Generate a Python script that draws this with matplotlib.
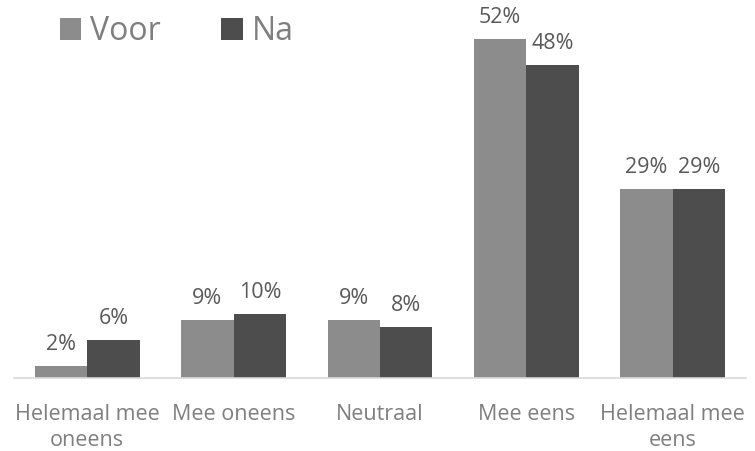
import matplotlib.pyplot as plt
import numpy as np

categories = ["Helemaal mee\noneens", "Mee oneens", "Neutraal", "Mee eens", "Helemaal mee\neens"]
voor = [1.8, 8.9, 8.9, 52.0, 29.0]
na = [5.8, 9.8, 7.8, 48.0, 29.0]
series_names = ["Voor", "Na"]

plt.rcParams['font.family'] = ['Open Sans', 'DejaVu Sans']

fig = plt.figure(figsize=(7.55, 4.51), dpi=100)
# axes placed so the baseline matches the reference
ax = fig.add_axes([14 / 755, (451 - 378) / 451, 732 / 755, 378 / 451])

x = np.arange(len(categories))
w = 0.358
c_voor = '#8c8c8c'
c_na = '#4d4d4d'
b1 = ax.bar(x - w / 2, voor, w, color=c_voor, label=series_names[0])
b2 = ax.bar(x + w / 2, na, w, color=c_na, label=series_names[1])

for bars, vals in [(b1, voor), (b2, na)]:
    for b, v in zip(bars, vals):
        ax.annotate(f"{v:.0f}%", (b.get_x() + b.get_width() / 2, v),
                    xytext=(0, 8), textcoords='offset points',
                    ha='center', va='bottom', fontsize=15.5, color='#595959')

ax.set_xlim(-0.5, 4.5)
ax.set_ylim(0, 58)
ax.set_yticks([])
ax.set_xticks(x)
ax.set_xticklabels(categories, fontsize=15.5, color='#7f7f7f', linespacing=1.3)
ax.tick_params(axis='x', length=0, pad=19)
for s in ['top', 'right', 'left']:
    ax.spines[s].set_visible(False)
ax.spines['bottom'].set_color('#d9d9d9')
ax.spines['bottom'].set_linewidth(1.2)

leg = fig.legend(loc='upper left', bbox_to_anchor=(60 / 755, 1 - 15 / 451), ncol=2,
                 frameon=False, fontsize=23, handlelength=0.66, handleheight=0.66,
                 handletextpad=0.28, columnspacing=1.9, borderpad=0, borderaxespad=0)
for t in leg.get_texts():
    t.set_color('#7f7f7f')

fig.savefig('out.png', dpi=100)
